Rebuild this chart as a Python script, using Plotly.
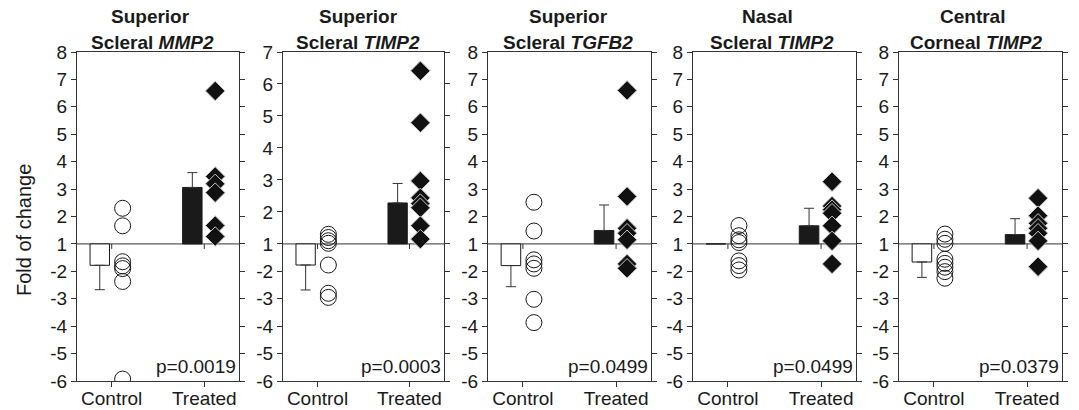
import plotly.graph_objects as go

# ---------------- data ----------------
categories = ["Control", "Treated"]
title_line1 = ["Superior", "Superior", "Superior", "Nasal", "Central"]
title_tissue = ["Scleral", "Scleral", "Scleral", "Scleral", "Corneal"]
title_gene = ["MMP2", "TIMP2", "TGFB2", "TIMP2", "TIMP2"]
p_values = ["p=0.0019", "p=0.0003", "p=0.0499", "p=0.0499", "p=0.0379"]
axis_top = [8, 7, 8, 8, 8]
lower_ticks = [-2, -3, -4, -5, -6]

control_mean = [-1.78, -1.77, -1.79, 1.0, -1.66]
control_err_end = [-2.67, -2.68, -2.56, 1.0, -2.22]
treated_mean = [3.06, 2.28, 1.49, 1.66, 1.34]
treated_err_end = [3.60, 2.89, 2.42, 2.30, 1.92]

control_points = [
    [2.30, 1.66, -1.65, -1.80, -1.90, -2.37, -5.93],
    [1.30, 1.20, 1.10, 1.02, -1.77, -2.80, -2.95],
    [2.52, 1.47, -1.58, -1.73, -1.89, -3.02, -3.87],
    [1.67, 1.30, 1.15, 1.05, -1.62, -1.79, -1.95],
    [1.36, 1.17, 1.02, -1.56, -1.71, -1.85, -2.01, -2.25],
]
treated_points = [
    [6.58, 3.46, 3.19, 2.87, 1.67, 1.27],
    [6.41, 4.79, 2.97, 2.44, 2.26, 2.13, 1.57, 1.15],
    [6.60, 2.73, 1.57, 1.39, 1.15, -1.73, -1.89],
    [3.27, 2.38, 2.25, 2.12, 1.66, 1.11, -1.73],
    [2.67, 2.03, 1.75, 1.57, 1.39, 1.11, -1.83],
]

# ---------------- layout geometry (page pixels) ----------------
W, H = 1079, 410
px_left = [77, 283, 488, 693, 899]
px_right = [239, 444, 651, 856, 1062]
top_px, bot_px = 52, 381
title1_x = [150, 358.5, 568.5, 767, 972.5]
title2_x = [152, 357.5, 567.7, 771.7, 976]
UP_UNITS = 7  # axis units between the "1" line and the top


def fx(px):
    return px / W


def fy(py):
    return (H - py) / H


def to_axis(f, top):
    """Fold-of-change value -> axis coordinate (split axis at 1)."""
    if f >= 1:
        return (f - 1) * UP_UNITS / (top - 1)
    return f + 1


FONT = "Liberation Sans, Arial, Helvetica, sans-serif"
INK = "#1a1a1a"
BAR_OFFSET, BAR_WIDTH, PT_OFFSET = -0.234, 0.21, 0.118

fig = go.Figure()
shapes, annotations = [], []
layout_axes = {}

for i in range(5):
    n = i + 1
    xa = "x" if n == 1 else f"x{n}"
    ya = "y" if n == 1 else f"y{n}"
    top = axis_top[i]
    cm, ce = to_axis(control_mean[i], top), to_axis(control_err_end[i], top)
    tm, te = to_axis(treated_mean[i], top), to_axis(treated_err_end[i], top)

    fig.add_trace(go.Bar(
        x=[0], y=[cm], width=[BAR_WIDTH], offset=BAR_OFFSET,
        marker=dict(color="white", line=dict(color=INK, width=1)),
        error_y=dict(type="data", symmetric=False, array=[0], arrayminus=[cm - ce],
                     color="#333", thickness=1, width=5, visible=(cm - ce) > 0),
        xaxis=xa, yaxis=ya, showlegend=False, hoverinfo="skip"))
    fig.add_trace(go.Bar(
        x=[1], y=[tm], width=[BAR_WIDTH], offset=BAR_OFFSET,
        marker=dict(color=INK, line=dict(color=INK, width=1)),
        error_y=dict(type="data", symmetric=False, array=[te - tm], arrayminus=[0],
                     color="#333", thickness=1, width=5),
        xaxis=xa, yaxis=ya, showlegend=False, hoverinfo="skip"))

    fig.add_trace(go.Scatter(
        x=[0 + PT_OFFSET] * len(control_points[i]),
        y=[to_axis(v, top) for v in control_points[i]],
        mode="markers",
        marker=dict(symbol="circle-open", size=16, color=INK, line=dict(width=1)),
        xaxis=xa, yaxis=ya, showlegend=False))
    fig.add_trace(go.Scatter(
        x=[1 + PT_OFFSET] * len(treated_points[i]),
        y=[to_axis(v, top) for v in treated_points[i]],
        mode="markers",
        marker=dict(symbol="diamond", size=15, color="#111",
                    line=dict(color="#c8c8c8", width=1)),
        xaxis=xa, yaxis=ya, showlegend=False))

    upper = list(range(1, top + 1))
    tickvals = [to_axis(v, top) for v in upper + lower_ticks]
    ticktext = [str(v) for v in upper + lower_ticks]

    xkey = "xaxis" if n == 1 else f"xaxis{n}"
    ykey = "yaxis" if n == 1 else f"yaxis{n}"
    layout_axes[xkey] = dict(
        domain=[fx(px_left[i]), fx(px_right[i])], anchor=ya,
        range=[-0.375, 1.375], tickvals=[0, 1], ticktext=categories,
        ticks="outside", ticklen=5, tickcolor="#333", showline=True,
        linecolor="#333", linewidth=1, mirror=True, showgrid=False,
        zeroline=False, tickfont=dict(size=19, color=INK, family=FONT),
        ticklabelstandoff=-5,
        automargin=False, fixedrange=True)
    layout_axes[ykey] = dict(
        domain=[fy(bot_px), fy(top_px)], anchor=xa,
        range=[-5, 7], tickvals=tickvals, ticktext=ticktext,
        ticks="outside", ticklen=5, tickcolor="#333", showline=True,
        linecolor="#333", linewidth=1, mirror="ticks", showgrid=False,
        zeroline=False, tickfont=dict(size=19, color=INK, family=FONT),
        automargin=False, fixedrange=True)

    # the "1" line and its small category ticks
    shapes.append(dict(type="line", xref=f"{xa} domain", x0=0, x1=1,
                       yref=ya, y0=0, y1=0, line=dict(color="#333", width=1),
                       layer="below"))
    for xv in (0, 1):
        shapes.append(dict(type="line", xref=xa, x0=xv, x1=xv, yref=ya,
                           ysizemode="pixel", yanchor=0, y0=0, y1=-5,
                           line=dict(color="#333", width=1)))

    annotations.append(dict(
        text=f"<b>{title_line1[i]}</b>", xref="paper", yref="paper",
        x=fx(title1_x[i]), y=fy(16), xanchor="center", yanchor="middle",
        showarrow=False, font=dict(size=19, color=INK, family=FONT)))
    annotations.append(dict(
        text=f"<b>{title_tissue[i]} <i>{title_gene[i]}</i></b>", xref="paper",
        yref="paper", x=fx(title2_x[i]), y=fy(43), xanchor="center",
        yanchor="middle", showarrow=False,
        font=dict(size=19, color=INK, family=FONT)))
    annotations.append(dict(
        text=p_values[i], xref=f"{xa} domain", yref="paper", x=1, xshift=-1,
        y=fy(366), xanchor="right", yanchor="middle", showarrow=False,
        font=dict(size=19, color=INK, family=FONT)))

annotations.append(dict(
    text="Fold of change", xref="paper", yref="paper", x=fx(24),
    y=fy(230), xanchor="center", yanchor="middle", textangle=-90,
    showarrow=False, font=dict(size=20, color=INK, family=FONT)))

fig.update_layout(
    width=W, height=H, margin=dict(l=0, r=0, t=0, b=0),
    paper_bgcolor="white", plot_bgcolor="white",
    font=dict(family=FONT, color=INK), shapes=shapes,
    annotations=annotations, showlegend=False, bargap=0, **layout_axes)

fig.write_html("out.html",
               config={"displayModeBar": False, "staticPlot": True},
               post_script="document.body.style.margin='0';"
                           "document.body.style.overflow='hidden';")
